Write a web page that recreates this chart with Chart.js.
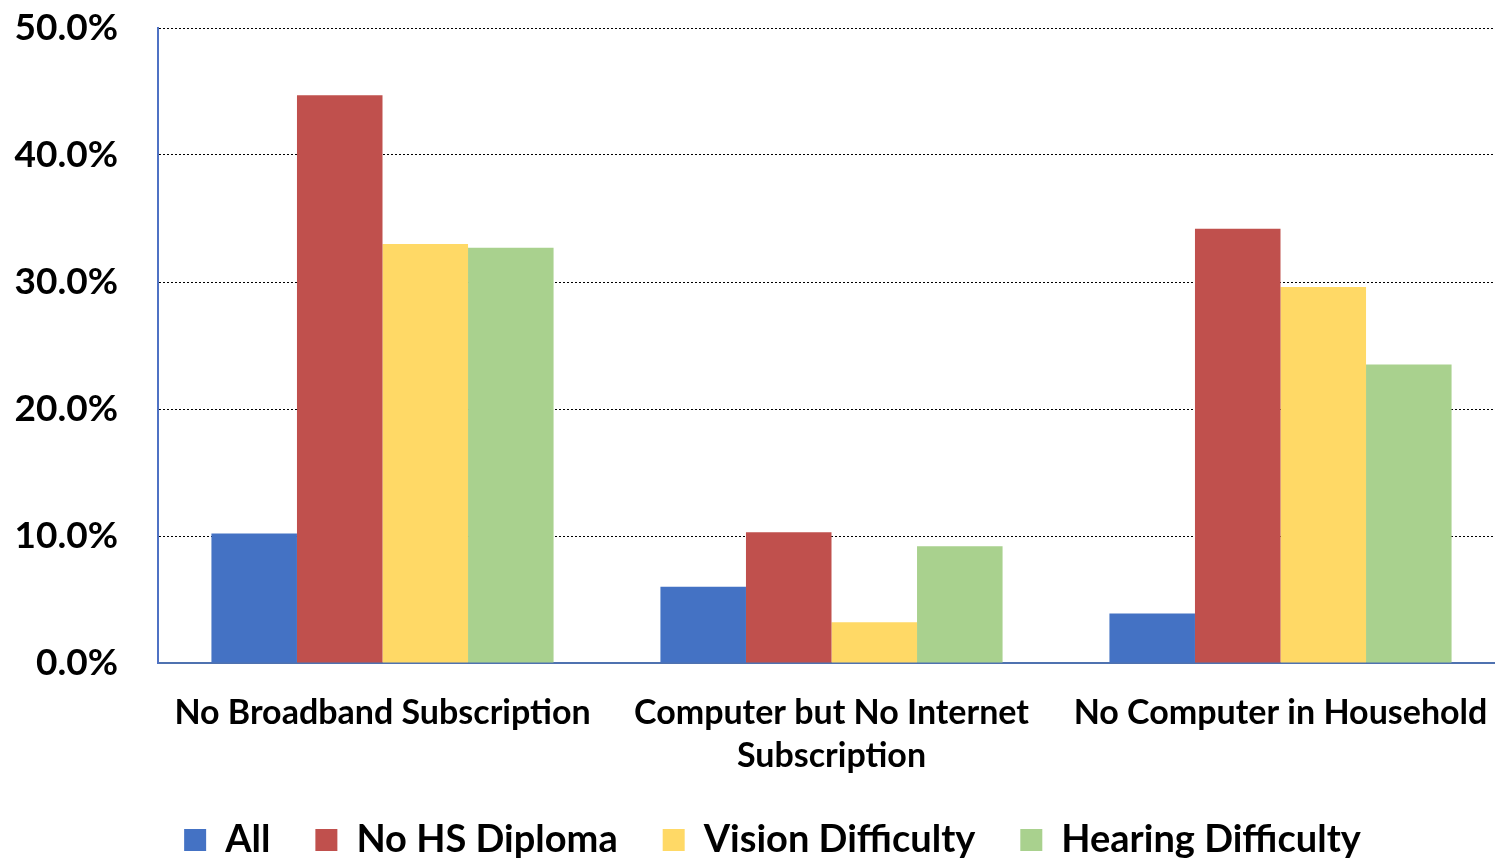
<!DOCTYPE html>
<html>
<head>
<meta charset="utf-8">
<script src="https://cdn.jsdelivr.net/npm/chart.js@4/dist/chart.umd.min.js"></script>
<style>
  html, body { margin: 0; padding: 0; background: #fff; overflow: hidden; }
  #wrap { width: 1505px; height: 859px; position: relative; }
</style>
</head>
<body>
<div id="wrap"><canvas id="c" width="1505" height="859"></canvas></div>
<script>
const categories = [
  "No Broadband Subscription",
  ["Computer but No Internet", "Subscription"],
  "No Computer in Household"
];
const seriesNames = ["All", "No HS Diploma", "Vision Difficulty", "Hearing Difficulty"];
const allValues = [10.2, 6.0, 3.9];
const noHSDiplomaValues = [44.7, 10.3, 34.2];
const visionValues = [33.0, 3.2, 29.6];
const hearingValues = [32.7, 9.2, 23.5];
const yTicks = [0, 10, 20, 30, 40, 50];

const colors = ["#4472C4", "#C0504D", "#FFD966", "#A9D18E"];
const FONT = "Lato, 'Open Sans', sans-serif";

const legendPlacePlugin = {
  id: 'legendPlace',
  afterInit(chart) {
    const lg = chart.legend;
    if (!lg) return;
    const orig = lg.fit;
    lg.fit = function () {
      orig.call(this);
      this.height = 84;
    };
  },
  afterLayout(chart) {
    const lg = chart.legend;
    if (!lg) return;
    lg.top += 1;
    lg.left += 20;
    lg.right += 20;
  }
};

new Chart(document.getElementById('c'), {
  type: 'bar',
  data: {
    labels: categories,
    datasets: [allValues, noHSDiplomaValues, visionValues, hearingValues].map((d, i) => ({
      label: seriesNames[i],
      data: d,
      backgroundColor: colors[i],
      borderWidth: 0,
      categoryPercentage: 0.762,
      barPercentage: 1.0
    }))
  },
  plugins: [legendPlacePlugin],
  options: {
    responsive: false,
    animation: false,
    devicePixelRatio: 1,
    layout: { padding: { top: 28, right: 0, left: 0, bottom: 0 } },
    plugins: {
      tooltip: { enabled: false },
      legend: {
        position: 'bottom',
        labels: {
          font: { family: FONT, size: 38, weight: 'bold' },
          color: '#000',
          boxWidth: 22,
          boxHeight: 22,
          padding: 45
        }
      }
    },
    scales: {
      x: {
        afterFit: (s) => { s.height = 112; s.paddingLeft = 0; s.paddingRight = 0; },
        grid: { display: false },
        border: { display: true, color: '#4F72B0', width: 2 },
        ticks: {
          font: { family: FONT, size: 34, weight: 'bold', lineHeight: 1.27 },
          color: '#000',
          padding: 20,
          maxRotation: 0,
          autoSkip: false
        }
      },
      y: {
        min: 0,
        max: 50,
        afterFit: (s) => { s.width = 158; s.paddingTop = 0; s.paddingBottom = 0; },
        afterBuildTicks: (s) => { s.ticks = yTicks.map(v => ({ value: v })); },
        grid: { color: '#000', lineWidth: 1, drawTicks: false },
        border: { display: true, color: '#4F72C4', width: 2, dash: [2, 2] },
        ticks: {
          font: { family: FONT, size: 37, weight: 'bold' },
          color: '#000',
          padding: 40,
          callback: (v) => v.toFixed(1) + '%'
        }
      }
    }
  }
});
</script>
</body>
</html>
